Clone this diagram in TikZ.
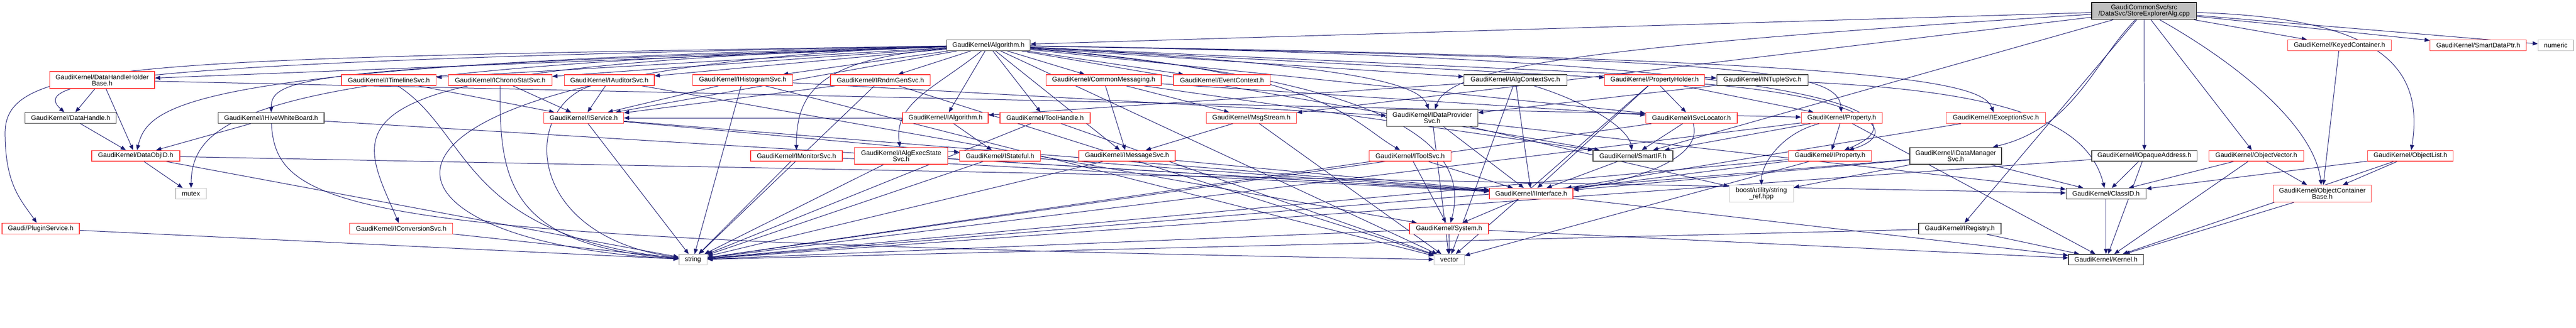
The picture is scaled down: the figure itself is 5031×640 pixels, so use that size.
\documentclass[tikz,border=0pt]{standalone}
\usepackage{fontspec}
\setmainfont{Liberation Sans}
\usetikzlibrary{arrows.meta,backgrounds}
\definecolor{depblue}{RGB}{25,25,112}
\definecolor{boxred}{RGB}{255,60,60}
\definecolor{boxblack}{RGB}{64,64,64}
\definecolor{boxgrey}{RGB}{191,191,191}
\begin{document}
\begin{tikzpicture}[x=0.75pt, y=-0.75pt,
	every node/.style={font=\fontsize{9.7}{9.2}\selectfont, inner sep=0pt, minimum height=15.75pt, line width=1pt, fill=white, align=center},
	redbox/.style={draw=boxred},
	blackbox/.style={draw=boxblack},
	greybox/.style={draw=boxgrey},
	rootbox/.style={draw=black, fill=boxgrey},
	bw/.style={minimum width=#1*0.75pt},
	twoline/.style={minimum height=24.75pt},
	dep/.style={draw=depblue, line width=0.75pt, -{Triangle[length=7.5pt,width=6pt]}}]
					\useasboundingbox (0,0) rectangle (5031,640);
					
					\node[rootbox, bw=205, twoline] (root) at (4187.5,21.5) {GaudiCommonSvc/src\\/DataSvc/StoreExplorerAlg.cpp};
					
					\node[blackbox, bw=163] (alg) at (1930.5,88.5) {GaudiKernel/Algorithm.h};
					\node[redbox, bw=202] (keyed) at (4569,88.5) {GaudiKernel/KeyedContainer.h};
					\node[redbox, bw=188] (sdp) at (4840,88.5) {GaudiKernel/SmartDataPtr.h};
					\node[greybox, bw=69] (numeric) at (4991.5,88.5) {numeric};
					
					\node[redbox, bw=205, twoline] (dhhb) at (199.5,156.5) {GaudiKernel/DataHandleHolder\\Base.h};
					\node[redbox, bw=185] (timeline) at (759.5,156.5) {GaudiKernel/ITimelineSvc.h};
					\node[redbox, bw=202] (chrono) at (977,156.5) {GaudiKernel/IChronoStatSvc.h};
					\node[redbox, bw=176] (auditor) at (1190,156.5) {GaudiKernel/IAuditorSvc.h};
					\node[redbox, bw=195] (histo) at (1450.5,156.5) {GaudiKernel/IHistogramSvc.h};
					\node[redbox, bw=195] (rndm) at (1719.5,156.5) {GaudiKernel/IRndmGenSvc.h};
					\node[redbox, bw=225] (commsg) at (2155.5,156.5) {GaudiKernel/CommonMessaging.h};
					\node[redbox, bw=189] (evtctx) at (2386.5,156.5) {GaudiKernel/EventContext.h};
					\node[blackbox, bw=201] (algctx) at (2959.5,156.5) {GaudiKernel/IAlgContextSvc.h};
					\node[redbox, bw=195] (propholder) at (3231.5,156.5) {GaudiKernel/PropertyHolder.h};
					\node[blackbox, bw=178] (ntuple) at (3442,156.5) {GaudiKernel/INTupleSvc.h};
					
					\node[blackbox, bw=178] (dhandle) at (138,230.5) {GaudiKernel/DataHandle.h};
					\node[blackbox, bw=207] (hive) at (529.5,230.5) {GaudiKernel/IHiveWhiteBoard.h};
					\node[redbox, bw=156] (iservice) at (1140,230.5) {GaudiKernel/IService.h};
					\node[redbox, bw=167] (ialg) at (1846.5,230.5) {GaudiKernel/IAlgorithm.h};
					\node[redbox, bw=176] (toolhandle) at (2041,230.5) {GaudiKernel/ToolHandle.h};
					\node[redbox, bw=176] (msgstream) at (2444,230.5) {GaudiKernel/MsgStream.h};
					\node[blackbox, bw=178, twoline] (dataprov) at (2797,230.5) {GaudiKernel/IDataProvider\\Svc.h};
					\node[redbox, bw=179] (svcloc) at (3303.5,230.5) {GaudiKernel/ISvcLocator.h};
					\node[redbox, bw=158] (property) at (3597,230.5) {GaudiKernel/Property.h};
					\node[redbox, bw=194] (exception) at (3898,230.5) {GaudiKernel/IExceptionSvc.h};
					
					\node[redbox, bw=172] (dataobjid) at (265,304.5) {GaudiKernel/DataObjID.h};
					\node[redbox, bw=179] (monitor) at (1555.5,304.5) {GaudiKernel/IMonitorSvc.h};
					\node[redbox, bw=182, twoline] (execstate) at (1760,304.5) {GaudiKernel/IAlgExecState\\Svc.h};
					\node[redbox, bw=158] (stateful) at (1953,304.5) {GaudiKernel/IStateful.h};
					\node[redbox, bw=188] (msgsvc) at (2201,304.5) {GaudiKernel/IMessageSvc.h};
					\node[redbox, bw=160] (toolsvc) at (2754,304.5) {GaudiKernel/IToolSvc.h};
					\node[blackbox, bw=156] (smartif) at (3189,304.5) {GaudiKernel/SmartIF.h};
					\node[redbox, bw=162] (iproperty) at (3574,304.5) {GaudiKernel/IProperty.h};
					\node[blackbox, bw=179, twoline] (datamgr) at (3819.5,304.5) {GaudiKernel/IDataManager\\Svc.h};
					\node[blackbox, bw=206] (opaque) at (4188,304.5) {GaudiKernel/IOpaqueAddress.h};
					\node[redbox, bw=185] (objvec) at (4406.5,304.5) {GaudiKernel/ObjectVector.h};
					\node[redbox, bw=167] (objlist) at (4707.5,304.5) {GaudiKernel/ObjectList.h};
					
					\node[greybox, bw=60] (mutex) at (373,378.5) {mutex};
					\node[redbox, bw=163] (iinterface) at (2990.5,378.5) {GaudiKernel/IInterface.h};
					\node[greybox, bw=126, twoline] (stringref) at (3440,378.5) {boost/utility/string\\\_ref.hpp};
					\node[blackbox, bw=156] (classid) at (4113,378.5) {GaudiKernel/ClassID.h};
					\node[redbox, bw=191, twoline] (objcont) at (4535.5,378.5) {GaudiKernel/ObjectContainer\\Base.h};
					
					\node[redbox, bw=151] (plugin) at (79.5,446.5) {Gaudi/PluginService.h};
					\node[redbox, bw=201] (conversion) at (783.5,446.5) {GaudiKernel/IConversionSvc.h};
					\node[redbox, bw=154] (system) at (2830,446.5) {GaudiKernel/System.h};
					\node[blackbox, bw=161] (registry) at (3827.5,446.5) {GaudiKernel/IRegistry.h};
					
					\node[greybox, bw=55] (string) at (1353.5,507.5) {string};
					\node[greybox, bw=59] (vector) at (2830.5,507.5) {vector};
					\node[blackbox, bw=146] (kernel) at (4113,507.5) {GaudiKernel/Kernel.h};
					
					\begin{scope}[on background layer]
					\fill[white] (0,0) rectangle (5031,640);
					
					\draw[dep] (root) -- (alg);
					\draw[dep] (root) -- (keyed);
					\draw[dep] (root) -- (sdp);
					\draw[dep] (root) -- (numeric);
					\draw[dep] (root) -- (objvec);
					\draw[dep] (root) -- (opaque);
					\draw[dep] (root) -- (registry);
					\draw[dep] (root) -- (msgstream);
					\draw[dep] (root) -- (smartif);
					\draw[dep] (root) .. controls (4650,35) and (4735,130) .. (objlist);
					\draw[dep] (root) .. controls (4380,130) and (4520,250) .. (objcont);
					\draw[dep] (root) .. controls (4090,120) and (4050,250) .. (datamgr);
					\draw[dep] (root) .. controls (3100,90) and (2830,130) .. (dataprov);
					
					\draw[dep] (alg) -- (dhhb);
					\draw[dep] (alg) -- (timeline);
					\draw[dep] (alg) -- (chrono);
					\draw[dep] (alg) -- (auditor);
					\draw[dep] (alg) -- (histo);
					\draw[dep] (alg) -- (rndm);
					\draw[dep] (alg) -- (iservice);
					\draw[dep] (alg) -- (ialg);
					\draw[dep] (alg) -- (toolhandle);
					\draw[dep] (alg) -- (commsg);
					\draw[dep] (alg) -- (evtctx);
					\draw[dep] (alg) -- (msgsvc);
					\draw[dep] (alg) -- (algctx);
					\draw[dep] (alg) -- (propholder);
					\draw[dep] (alg) -- (svcloc);
					\draw[dep] (alg) -- (smartif);
					\draw[dep] (alg) -- (ntuple);
					\draw[dep] (alg) -- (vector);
					\draw[dep] (alg) .. controls (250,115) and (10,120) .. (10,260) .. controls (10,360) and (40,390) .. (plugin);
					\draw[dep] (alg) .. controls (200,120) and (60,160) .. (dhandle);
					\draw[dep] (alg) .. controls (380,125) and (290,200) .. (dataobjid);
					\draw[dep] (alg) .. controls (520,130) and (375,220) .. (mutex);
					\draw[dep] (alg) .. controls (600,130) and (530,150) .. (hive);
					\draw[dep] (alg) .. controls (600,130) and (690,230) .. (conversion);
					\draw[dep] (alg) .. controls (620,130) and (650,470) .. (string);
					\draw[dep] (alg) .. controls (1830,170) and (1745,200) .. (execstate);
					\draw[dep] (alg) .. controls (1600,115) and (1555,180) .. (monitor);
					\draw[dep] (alg) .. controls (2620,125) and (2770,160) .. (dataprov);
					\draw[dep] (alg) .. controls (2600,140) and (2640,240) .. (toolsvc);
					\draw[dep] (alg) .. controls (2660,150) and (2880,260) .. (system);
					\draw[dep] (alg) .. controls (3450,115) and (3590,140) .. (property);
					\draw[dep] (alg) .. controls (3650,115) and (3760,230) .. (iproperty);
					\draw[dep] (alg) .. controls (3700,115) and (3870,160) .. (exception);
					
					\draw[dep] (dhhb) -- (dhandle);
					\draw[dep] (dhhb) -- (dataobjid);
					\draw[dep] (dhhb) -- (property);
					\draw[dep] (dhandle) -- (dataobjid);
					\draw[dep] (dataobjid) -- (mutex);
					\draw[dep] (dataobjid) -- (string);
					\draw[dep] (dataobjid) -- (classid);
					\draw[dep] (hive) -- (dataobjid);
					\draw[dep] (hive) -- (iinterface);
					\draw[dep] (hive) .. controls (540,420) and (700,470) .. (vector);
					\draw[dep] (timeline) -- (iservice);
					\draw[dep] (timeline) .. controls (920,260) and (900,460) .. (string);
					\draw[dep] (chrono) -- (iservice);
					\draw[dep] (chrono) .. controls (975,350) and (990,480) .. (string);
					\draw[dep] (auditor) -- (iservice);
					\draw[dep] (auditor) -- (system);
					\draw[dep] (auditor) .. controls (1020,210) and (1020,460) .. (string);
					\draw[dep] (histo) -- (iservice);
					\draw[dep] (histo) -- (string);
					\draw[dep] (histo) -- (vector);
					\draw[dep] (histo) -- (dataprov);
					\draw[dep] (rndm) -- (iservice);
					\draw[dep] (rndm) -- (string);
					\draw[dep] (rndm) -- (vector);
					\draw[dep] (commsg) -- (msgsvc);
					\draw[dep] (commsg) -- (msgstream);
					\draw[dep] (commsg) -- (svcloc);
					\draw[dep] (commsg) -- (smartif);
					\draw[dep] (algctx) -- (ialg);
					\draw[dep] (algctx) -- (iinterface);
					\draw[dep] (algctx) -- (vector);
					\draw[dep] (algctx) .. controls (3100,200) and (3180,250) .. (smartif);
					\draw[dep] (propholder) -- (svcloc);
					\draw[dep] (propholder) -- (property);
					\draw[dep] (propholder) -- (iinterface);
					\draw[dep] (propholder) -- (vector);
					\draw[dep] (propholder) .. controls (3650,190) and (3720,260) .. (iproperty);
					\draw[dep] (ntuple) -- (dataprov);
					\draw[dep] (ntuple) .. controls (3950,180) and (4080,250) .. (classid);
					
					\draw[dep] (iservice) -- (stateful);
					\draw[dep] (iservice) -- (iinterface);
					\draw[dep] (iservice) -- (string);
					\draw[dep] (ialg) -- (iservice);
					\draw[dep] (ialg) -- (stateful);
					\draw[dep] (toolhandle) -- (string);
					\draw[dep] (toolhandle) -- (vector);
					\draw[dep] (msgstream) -- (msgsvc);
					\draw[dep] (msgstream) -- (vector);
					\draw[dep] (dataprov) -- (iinterface);
					\draw[dep] (dataprov) -- (classid);
					\draw[dep] (dataprov) -- (stringref);
					\draw[dep] (dataprov) -- (vector);
					\draw[dep] (svcloc) -- (smartif);
					\draw[dep] (svcloc) -- (string);
					\draw[dep] (svcloc) .. controls (3330,320) and (3150,360) .. (iinterface);
					\draw[dep] (property) -- (iproperty);
					\draw[dep] (property) -- (smartif);
					\draw[dep] (property) -- (kernel);
					\draw[dep] (property) -- (string);
					\draw[dep] (property) .. controls (3480,260) and (3440,320) .. (stringref);
					\draw[dep] (exception) -- (iinterface);
					
					\draw[dep] (monitor) -- (iinterface);
					\draw[dep] (monitor) -- (string);
					\draw[dep] (execstate) -- (iinterface);
					\draw[dep] (execstate) -- (string);
					\draw[dep] (stateful) -- (iinterface);
					\draw[dep] (stateful) -- (string);
					\draw[dep] (msgsvc) -- (iinterface);
					\draw[dep] (msgsvc) -- (string);
					\draw[dep] (toolsvc) -- (system);
					\draw[dep] (toolsvc) -- (iinterface);
					\draw[dep] (toolsvc) -- (string);
					\draw[dep] (smartif) -- (iinterface);
					\draw[dep] (iproperty) -- (iinterface);
					\draw[dep] (iproperty) -- (string);
					\draw[dep] (iproperty) -- (vector);
					\draw[dep] (datamgr) -- (classid);
					\draw[dep] (datamgr) -- (iinterface);
					\draw[dep] (datamgr) -- (stringref);
					\draw[dep] (datamgr) -- (string);
					\draw[dep] (opaque) -- (classid);
					\draw[dep] (opaque) -- (kernel);
					\draw[dep] (opaque) -- (string);
					\draw[dep] (objvec) -- (objcont);
					\draw[dep] (objvec) -- (classid);
					\draw[dep] (objvec) -- (kernel);
					\draw[dep] (objlist) -- (objcont);
					\draw[dep] (objlist) -- (classid);
					\draw[dep] (objlist) -- (kernel);
					\draw[dep] (keyed) -- (objcont);
					
					\draw[dep] (objcont) -- (kernel);
					\draw[dep] (iinterface) -- (system);
					\draw[dep] (iinterface) -- (kernel);
					\draw[dep] (classid) -- (kernel);
					\draw[dep] (conversion) -- (string);
					\draw[dep] (plugin) -- (string);
					\draw[dep] (system) -- (vector);
					\draw[dep] (system) -- (kernel);
					\draw[dep] (system) -- (string);
					\draw[dep] (registry) -- (kernel);
					\draw[dep] (registry) -- (string);
					\end{scope}
\end{tikzpicture}
\end{document}
